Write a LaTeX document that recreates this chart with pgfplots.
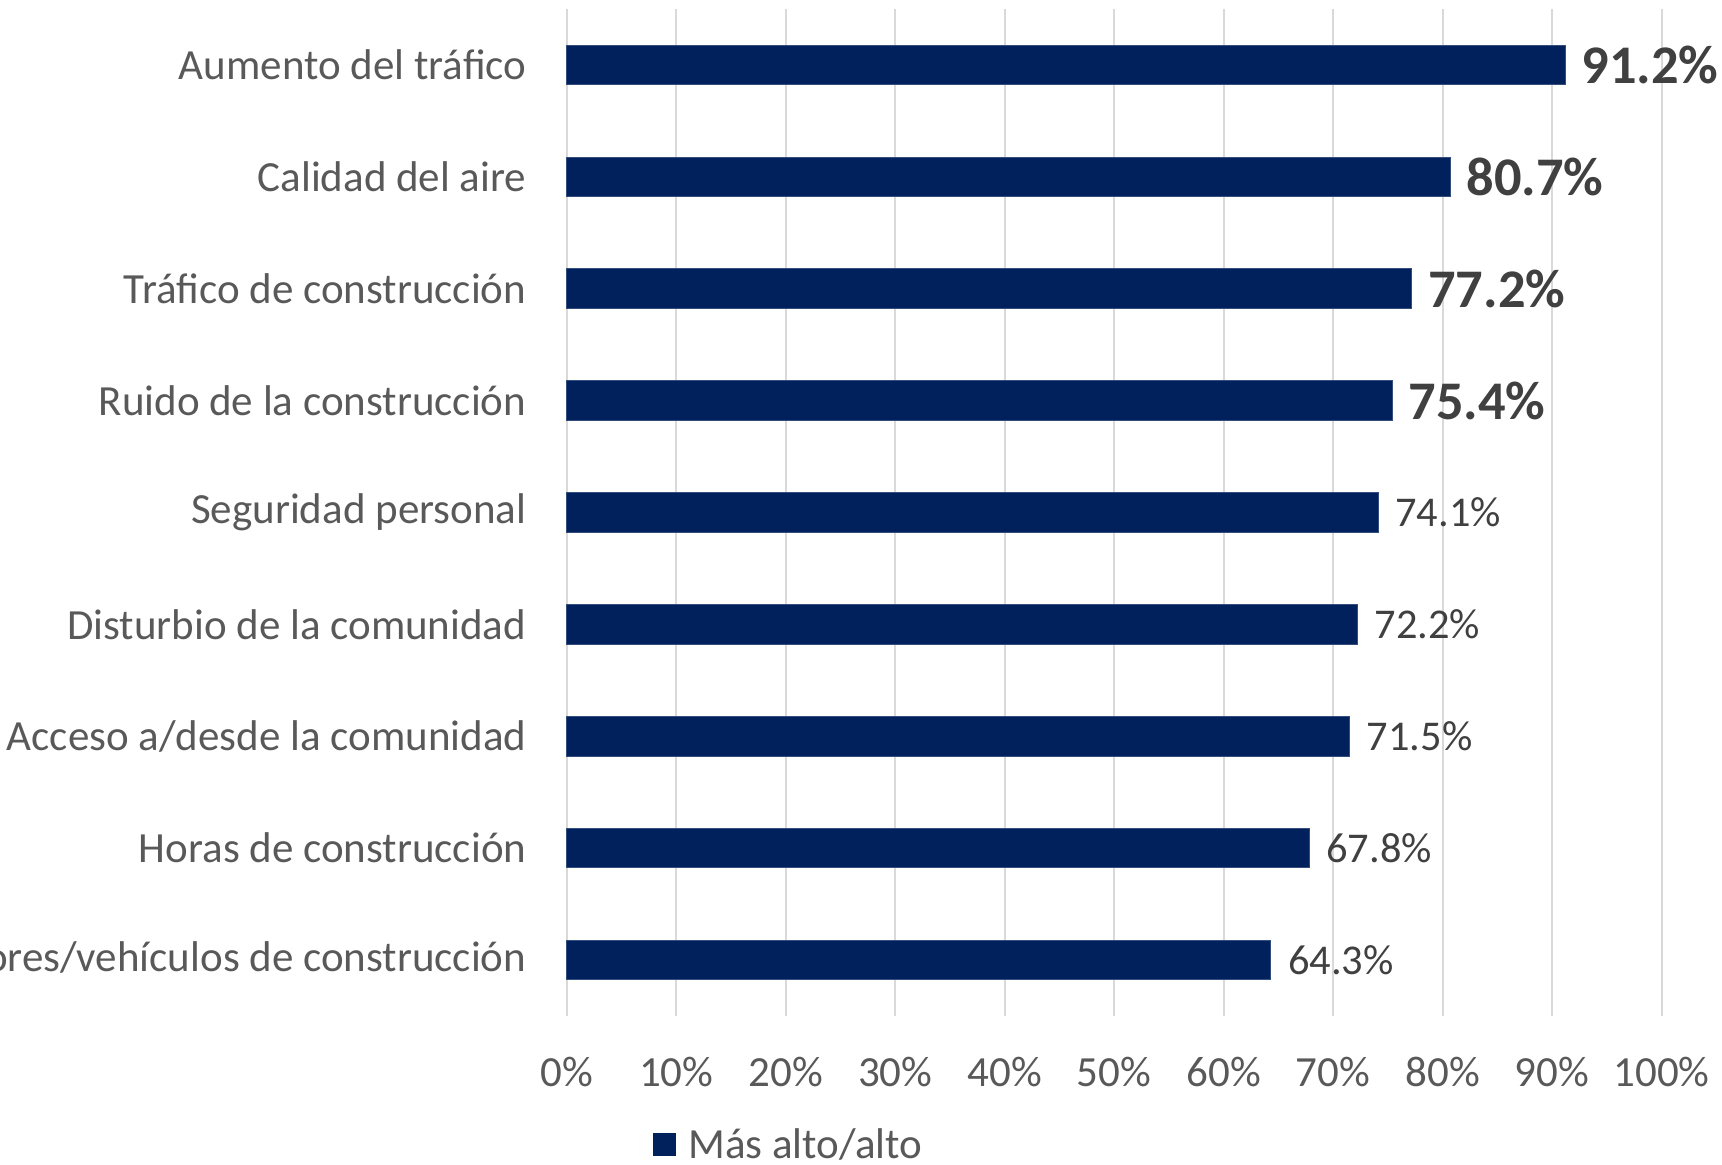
\documentclass[border=0pt]{standalone}
\usepackage{pgfplots}
\pgfplotsset{compat=1.18}
\usepackage{fontspec}
\setmainfont{Carlito}
\definecolor{barblue}{RGB}{0,33,91}
\definecolor{lblgray}{RGB}{89,89,89}
\definecolor{dlgray}{RGB}{64,64,64}
\definecolor{gridgray}{RGB}{217,217,217}
\begin{document}
\begin{tikzpicture}
\useasboundingbox (0,0) rectangle (861pt,582.5pt);
\begin{axis}[
  at={(283.35pt,74.5pt)}, anchor=south west,
  scale only axis, width=547.45pt, height=503.5pt,
  xmin=0, xmax=100, ymin=-0.5, ymax=8.5, y dir=reverse,
  axis line style={draw=none},
  xmajorgrids, grid style={gridgray, line width=1pt},
  xtick={0,10,...,100},
  xticklabel={\pgfmathprintnumber[assume math mode=true]{\tick}\%},
  ytick={0,...,8},
  yticklabels={Aumento del tráfico, Calidad del aire, Tráfico de construcción, Ruido de la construcción, Seguridad personal, Disturbio de la comunidad, Acceso a/desde la comunidad, Horas de construcción, Trabajadores/vehículos de construcción},
  tick style={draw=none}, major tick length=0pt,
  ticklabel style={font=\fontsize{21.5}{25}\selectfont, text=lblgray},
  yticklabel style={anchor=east, inner sep=0pt, xshift=-20pt},
  xticklabel style={anchor=north, inner sep=0pt, yshift=-20.5pt},
  legend style={draw=none, fill=none, at={(0.078,-0.128)}, anchor=west, inner sep=0pt,
    font=\fontsize{21.5}{25}\selectfont, text=lblgray},
  legend image code/.code={\fill[barblue] (0pt,-5.5pt) rectangle (11pt,5.5pt);},
  clip=false,
]
\addplot[xbar, bar shift=0pt, bar width=19.75pt, fill=barblue, draw=barblue!80!white, line width=0.5pt]
  coordinates {(91.2,0) (80.7,1) (77.2,2) (75.4,3) (74.1,4) (72.2,5) (71.5,6) (67.8,7) (64.3,8)};
\addlegendentry{\hspace{4.5pt}Más alto/alto}
\addplot[xbar, bar shift=0pt, bar width=19.75pt, draw=none, fill=none, forget plot,
  nodes near coords={\pgfmathprintnumber[fixed, precision=1, fixed zerofill, assume math mode=true]{\pgfplotspointmeta}\%},
  nodes near coords style={anchor=west, inner sep=0pt, xshift=8pt, text=dlgray, font=\bfseries\fontsize{27.2}{31}\selectfont}]
  coordinates {(91.2,0) (80.7,1) (77.2,2) (75.4,3)};
\addplot[xbar, bar shift=0pt, bar width=19.75pt, draw=none, fill=none, forget plot,
  nodes near coords={\pgfmathprintnumber[fixed, precision=1, fixed zerofill, assume math mode=true]{\pgfplotspointmeta}\%},
  nodes near coords style={anchor=west, inner sep=0pt, xshift=8.5pt, text=dlgray, font=\fontsize{21.2}{25}\selectfont}]
  coordinates {(74.1,4) (72.2,5) (71.5,6) (67.8,7) (64.3,8)};
\end{axis}
\end{tikzpicture}
\end{document}
